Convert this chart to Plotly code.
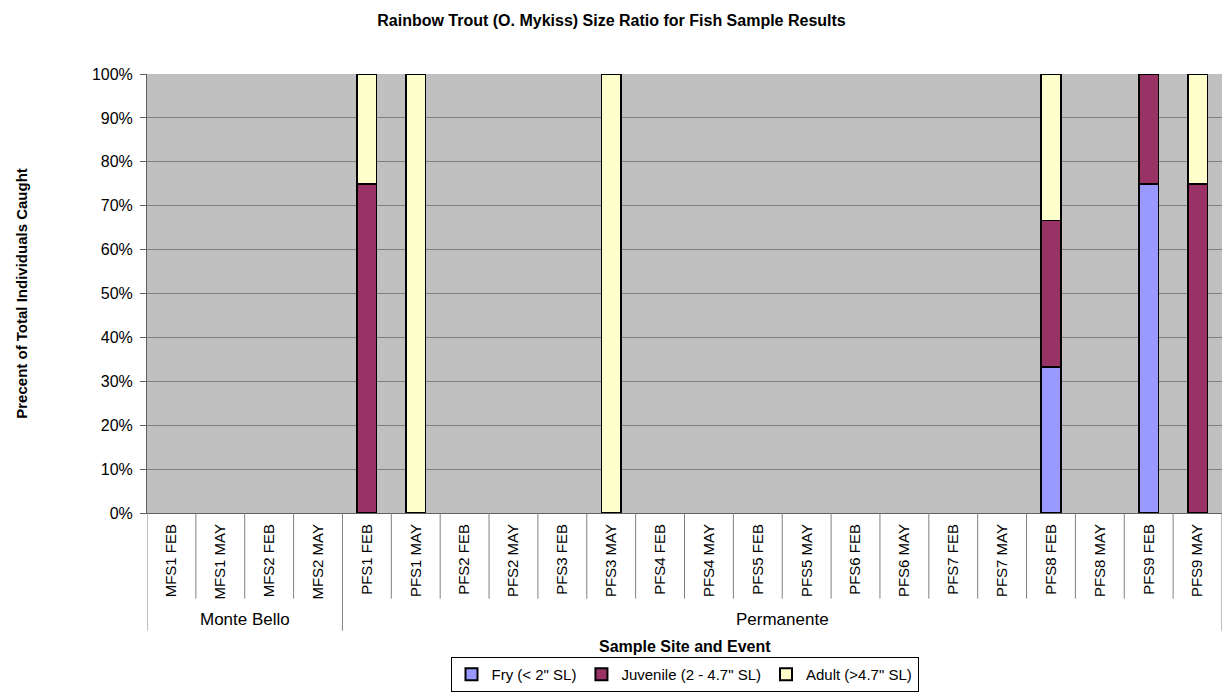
import plotly.graph_objects as go

categories = ["MFS1 FEB", "MFS1 MAY", "MFS2 FEB", "MFS2 MAY",
              "PFS1 FEB", "PFS1 MAY", "PFS2 FEB", "PFS2 MAY", "PFS3 FEB", "PFS3 MAY",
              "PFS4 FEB", "PFS4 MAY", "PFS5 FEB", "PFS5 MAY", "PFS6 FEB", "PFS6 MAY",
              "PFS7 FEB", "PFS7 MAY", "PFS8 FEB", "PFS8 MAY", "PFS9 FEB", "PFS9 MAY"]
fry      = [0, 0, 0, 0, 0, 0, 0, 0, 0, 0, 0, 0, 0, 0, 0, 0, 0, 0, 33.3, 0, 75, 0]
juvenile = [0, 0, 0, 0, 75, 0, 0, 0, 0, 0, 0, 0, 0, 0, 0, 0, 0, 0, 33.3, 0, 25, 75]
adult    = [0, 0, 0, 0, 25, 100, 0, 0, 0, 100, 0, 0, 0, 0, 0, 0, 0, 0, 33.4, 0, 0, 25]
groups = [("Monte Bello", 0, 3), ("Permanente", 4, 21)]
series_names = ['Fry (< 2" SL)', 'Juvenile (2 - 4.7" SL)', 'Adult (>4.7" SL)']
colors = ["#9999FF", "#993366", "#FFFFCC"]

FONT = "Arial, Liberation Sans, sans-serif"
fig = go.Figure()
for name, vals, c in zip(series_names, [fry, juvenile, adult], colors):
    fig.add_trace(go.Bar(x=categories, y=[v if v else None for v in vals], name=name, width=0.4,
                         marker=dict(color=c, line=dict(color="black", width=1.5))))

n = len(categories)
shapes = []
for i in range(n + 1):
    xpos = i - 0.5
    is_group_edge = any(xpos == g[1] - 0.5 for g in groups) or xpos == n - 0.5
    shapes.append(dict(type="line", xref="x", yref="paper", x0=xpos, x1=xpos,
                       y0=0, y1=-0.268 if is_group_edge else -0.195,
                       line=dict(color="#808080", width=1)))

annotations = []
for name, a, b in groups:
    annotations.append(dict(text=name, x=(a + b) / 2, xref="x", y=-0.243, yref="paper",
                            showarrow=False, font=dict(size=17, color="black", family=FONT),
                            yanchor="middle"))
annotations.append(dict(text="<b>Sample Site and Event</b>", x=0.5, xref="paper",
                        y=-0.304, yref="paper", showarrow=False, yanchor="middle",
                        font=dict(size=16, color="black", family=FONT)))
annotations.append(dict(text="<b>Precent of Total Individuals Caught</b>", x=-0.117, xref="paper",
                        y=0.5, yref="paper", showarrow=False, textangle=-90,
                        xanchor="center", yanchor="middle",
                        font=dict(size=15, color="black", family=FONT)))

fig.update_layout(
    width=1223, height=692,
    margin=dict(l=147, r=1, t=74, b=178),
    paper_bgcolor="white", plot_bgcolor="#C0C0C0",
    barmode="stack",
    font=dict(family=FONT, color="black"),
    title=dict(text="<b>Rainbow Trout (O. Mykiss) Size Ratio for Fish Sample Results</b>",
               x=0.5, xanchor="center", y=0.97, yanchor="middle",
               font=dict(size=16, color="black", family=FONT)),
    xaxis=dict(type="category", tickangle=-90, tickfont=dict(size=15, color="black"),
               showgrid=False, showline=True, linecolor="#606060", linewidth=1,
               ticks="", ticklabelstandoff=4, range=[-0.5, n - 0.5], fixedrange=True,
               automargin=False),
    yaxis=dict(range=[0, 100], dtick=10, ticksuffix="%", tickfont=dict(size=16, color="black"),
               showgrid=True, gridcolor="#808080", gridwidth=1,
               showline=True, linecolor="#606060", linewidth=1,
               ticks="outside", ticklen=6, tickcolor="#606060", zeroline=False,
               ticklabelstandoff=4, automargin=False),
    legend=dict(orientation="h", x=0.5, xanchor="center", y=-0.365, yanchor="middle",
                bordercolor="black", borderwidth=1, bgcolor="white",
                font=dict(size=15, color="black", family=FONT),
                itemsizing="constant", traceorder="normal", itemwidth=30),
    shapes=shapes, annotations=annotations,
)
fig.write_html("out.html", config={"displayModeBar": False},
               post_script="document.body.style.margin='0';")
